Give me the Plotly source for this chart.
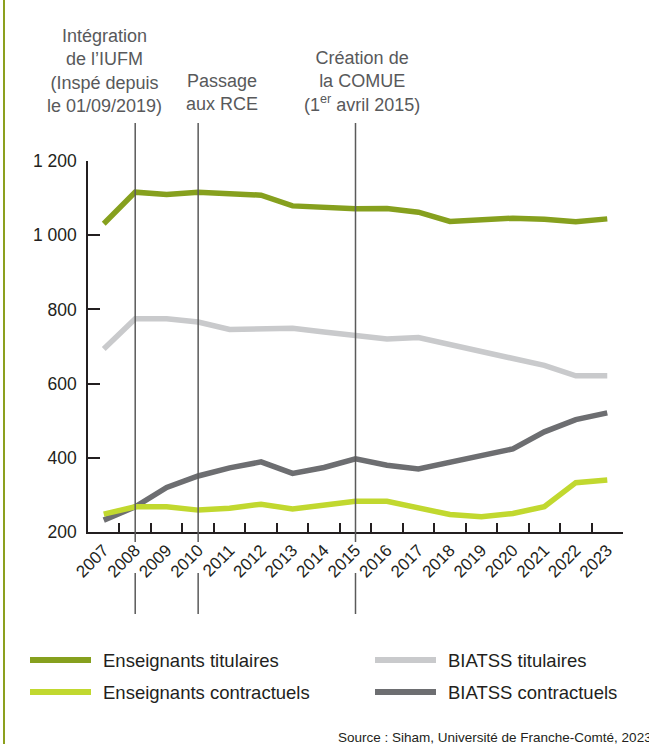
import plotly.graph_objects as go

years = [str(y) for y in range(2007, 2024)]

ens_titulaires = [1031, 1116, 1110, 1116, 1112, 1108, 1079, 1075, 1071, 1072, 1062, 1037, 1043, 1046, 1043, 1036, 1044]
biatss_titulaires = [693, 775, 775, 766, 746, 747, 749, 739, 730, 720, 724, 706, 685, 668, 649, 621, 621]
biatss_contractuels = [232, 268, 320, 351, 373, 389, 358, 374, 397, 380, 370, 389, 406, 424, 470, 503, 521]
ens_contractuels = [248, 268, 268, 259, 264, 275, 262, 273, 283, 283, 266, 247, 241, 250, 268, 333, 340]

series_names = ["Enseignants titulaires", "Enseignants contractuels", "BIATSS titulaires", "BIATSS contractuels"]
series_colors = ["#86a01e", "#c1d82f", "#c9cacc", "#6d6e71"]

event_years = ["2008", "2010", "2015"]
event_texts = [
    "Intégration<br>de l’IUFM<br>(Inspé depuis<br>le 01/09/2019)",
    "Passage<br>aux RCE",
    "Création de<br>la COMUE<br>(1<sup>er</sup> avril 2015)",
]

y_ticks = [200, 400, 600, 800, 1000, 1200]
y_ticktext = ["200", "400", "600", "800", "1 000", "1 200"]

W, H = 649, 744
L, R, T, B = 88, 26, 161, 212
PW, PH = W - L - R, H - T - B

def px(x):
    return (x - L) / PW

def py(y):
    return (H - B - y) / PH

font = "Liberation Sans, Arial, sans-serif"

fig = go.Figure()
# grey series first so the greens sit on top
order = [2, 3, 0, 1]
data = [ens_titulaires, ens_contractuels, biatss_titulaires, biatss_contractuels]
for i in order:
    fig.add_trace(go.Scatter(
        x=years, y=data[i], mode="lines", name=series_names[i],
        line=dict(color=series_colors[i], width=5.5), showlegend=False,
    ))

shapes = []
for ev in event_years:
    xi = years.index(ev)  # category index on the x axis
    shapes.append(dict(type="line", xref="x", yref="paper", x0=xi, x1=xi,
                       y0=py(123), y1=py(542), line=dict(color="#5a5a5a", width=1.5), layer="above"))
    shapes.append(dict(type="line", xref="x", yref="paper", x0=xi, x1=xi,
                       y0=py(573), y1=py(614), line=dict(color="#5a5a5a", width=1.5), layer="above"))

# left border
shapes.append(dict(type="line", xref="paper", yref="paper", x0=px(4), x1=px(4),
                   y0=py(0), y1=py(744), line=dict(color="#8ca01e", width=2)))

annotations = []
ev_x = [104, 222, 362]
ev_y = [71, 93, 82]
for t, x, y in zip(event_texts, ev_x, ev_y):
    annotations.append(dict(text=t, xref="paper", yref="paper", x=px(x), y=py(y),
                            xanchor="center", yanchor="middle", showarrow=False,
                            font=dict(size=18, color="#58595b", family=font)))

# legend drawn by hand
leg_pos = [(30, 660), (30, 692), (375, 660), (375, 692)]
for i, (lx, ly) in enumerate(leg_pos):
    shapes.append(dict(type="line", xref="paper", yref="paper", x0=px(lx), x1=px(lx + 61),
                       y0=py(ly), y1=py(ly), line=dict(color=series_colors[i], width=6)))
    annotations.append(dict(text=series_names[i], xref="paper", yref="paper", x=px(lx + 71), y=py(ly),
                            xanchor="left", yanchor="middle", showarrow=False,
                            font=dict(size=18.5, color="#231f20", family=font)))

annotations.append(dict(text="Source : Siham, Université de Franche-Comté, 2023", xref="paper", yref="paper",
                        x=px(654), y=py(737), xanchor="right", yanchor="middle", showarrow=False,
                        font=dict(size=13.5, color="#231f20", family=font)))

fig.update_layout(
    width=W, height=H,
    margin=dict(l=L, r=R, t=T, b=B),
    paper_bgcolor="white", plot_bgcolor="white",
    font=dict(family=font, color="#231f20"),
    shapes=shapes, annotations=annotations,
    showlegend=False,
)
fig.update_xaxes(
    type="category", range=[-0.5, 16.5], showgrid=False, zeroline=False,
    showline=True, linecolor="#231f20", linewidth=1.5,
    ticks="inside", ticklen=9, tickwidth=1.5, tickcolor="#231f20", tickson="boundaries",
    tickangle=-45, tickfont=dict(size=17, color="#231f20"),
)
fig.update_yaxes(
    range=[200, 1200], showgrid=False, zeroline=False,
    showline=True, linecolor="#231f20", linewidth=1.5,
    ticks="inside", ticklen=12, tickwidth=1.5, tickcolor="#231f20",
    tickvals=y_ticks, ticktext=y_ticktext, tickfont=dict(size=17.5, color="#231f20"),
    ticklabelstandoff=6,
)

fig.write_html("out.html", config={"displayModeBar": False},
               post_script="document.body.style.margin='0';document.body.style.overflow='hidden';")
